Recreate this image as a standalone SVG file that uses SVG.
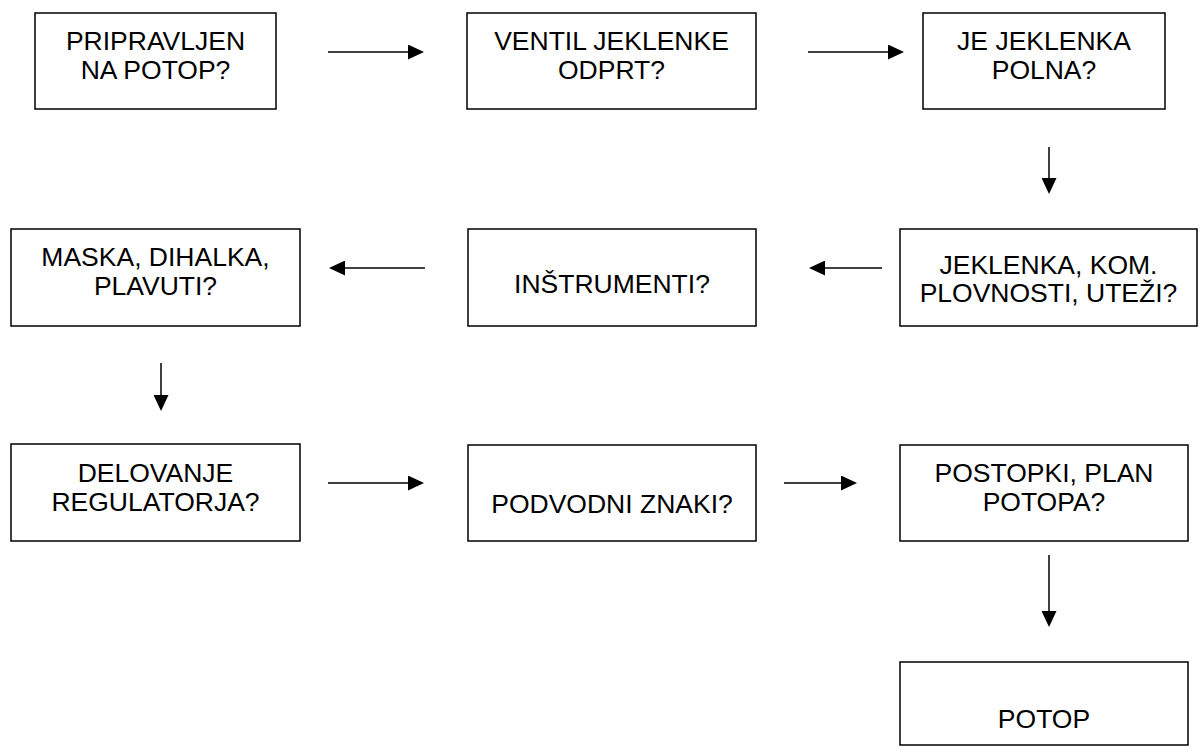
<svg xmlns="http://www.w3.org/2000/svg" width="1201" height="751" viewBox="0 0 1201 751">
<style>
.box{fill:#fff;stroke:#000;stroke-width:1.5}
.t{font-family:"Liberation Sans",Arial,sans-serif;font-size:26.5px;fill:#000;text-anchor:middle}
.c{stroke:#000;stroke-width:1.5;fill:none;marker-end:url(#ah)}
</style>
<defs>
<marker id="ah" markerUnits="userSpaceOnUse" markerWidth="16" markerHeight="15" refX="14" refY="7.5" orient="auto">
<path d="M0,0 L16,7.5 L0,15 Z" fill="#000"/>
</marker>
</defs>
<rect width="1201" height="751" fill="#fff"/>
<g id="connectors">
<line class="c" x1="328" y1="52" x2="422" y2="52"/>
<line class="c" x1="808" y1="52" x2="902" y2="52"/>
<line class="c" x1="1049" y1="147" x2="1049" y2="192"/>
<line class="c" x1="882" y1="268" x2="811" y2="268"/>
<line class="c" x1="425" y1="268" x2="331" y2="268"/>
<line class="c" x1="161" y1="363" x2="161" y2="409"/>
<line class="c" x1="328" y1="483" x2="422" y2="483"/>
<line class="c" x1="784" y1="483" x2="855" y2="483"/>
<line class="c" x1="1049" y1="555" x2="1049" y2="625"/>
</g>
<g id="n1">
<rect class="box" x="35" y="13" width="241" height="96"/>
<text class="t" x="155.5" y="50">PRIPRAVLJEN</text>
<text class="t" x="155.5" y="79">NA POTOP?</text>
</g>
<g id="n2">
<rect class="box" x="467" y="13" width="289" height="96"/>
<text class="t" x="611.5" y="50">VENTIL JEKLENKE</text>
<text class="t" x="611.5" y="79">ODPRT?</text>
</g>
<g id="n3">
<rect class="box" x="923" y="13" width="242" height="96"/>
<text class="t" x="1044" y="50">JE JEKLENKA</text>
<text class="t" x="1044" y="79">POLNA?</text>
</g>
<g id="n4">
<rect class="box" x="900" y="229" width="297" height="97"/>
<text class="t" x="1048.5" y="274">JEKLENKA, KOM.</text>
<text class="t" x="1048.5" y="302">PLOVNOSTI, UTEŽI?</text>
</g>
<g id="n5">
<rect class="box" x="468" y="229" width="288" height="97"/>
<text class="t" x="612" y="293">INŠTRUMENTI?</text>
</g>
<g id="n6">
<rect class="box" x="11" y="229" width="289" height="97"/>
<text class="t" x="155.5" y="266">MASKA, DIHALKA,</text>
<text class="t" x="155.5" y="295">PLAVUTI?</text>
</g>
<g id="n7">
<rect class="box" x="11" y="444" width="289" height="97"/>
<text class="t" x="155.5" y="482">DELOVANJE</text>
<text class="t" x="155.5" y="511">REGULATORJA?</text>
</g>
<g id="n8">
<rect class="box" x="468" y="445" width="288" height="96"/>
<text class="t" x="612" y="513">PODVODNI ZNAKI?</text>
</g>
<g id="n9">
<rect class="box" x="900" y="445" width="288" height="96"/>
<text class="t" x="1044" y="482">POSTOPKI, PLAN</text>
<text class="t" x="1044" y="511">POTOPA?</text>
</g>
<g id="n10">
<rect class="box" x="900" y="662" width="288" height="83"/>
<text class="t" x="1044" y="728">POTOP</text>
</g>
</svg>
